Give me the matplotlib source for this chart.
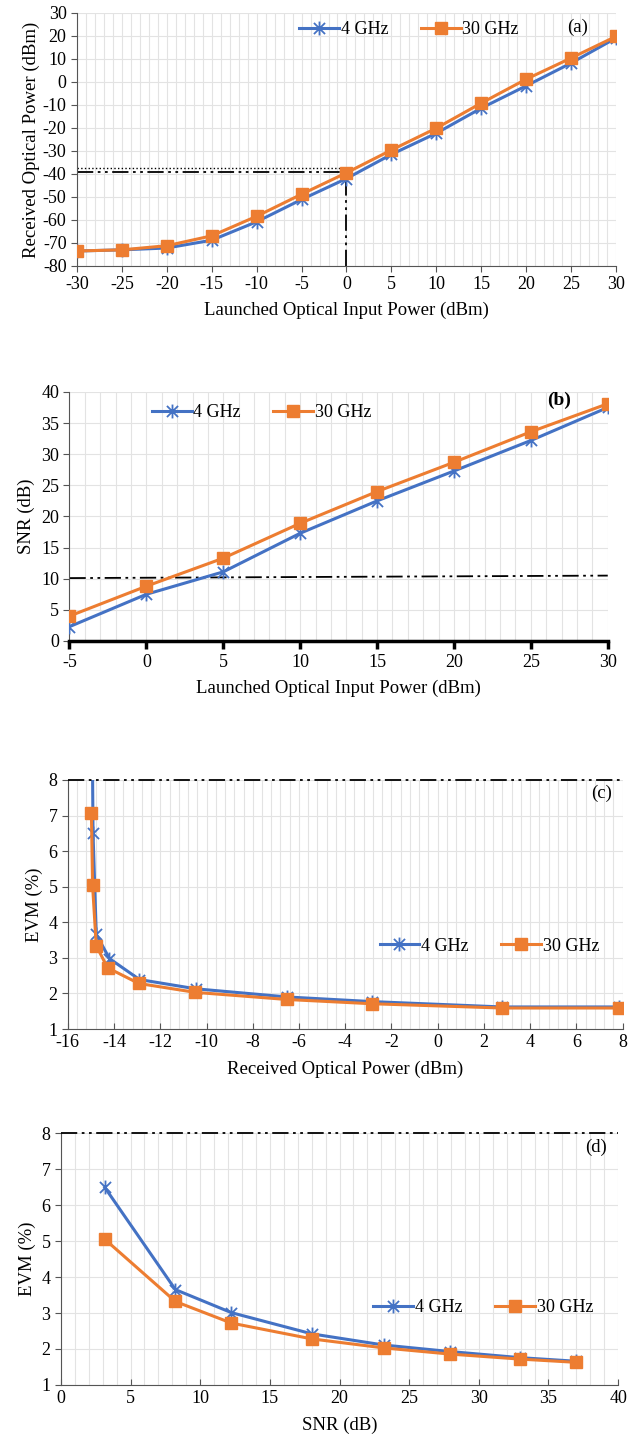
"""Received power, SNR and EVM vs launched/received power (4 GHz vs 30 GHz)."""

import matplotlib
matplotlib.use("Agg")
import matplotlib.pyplot as plt
from matplotlib.path import Path
from matplotlib.ticker import MultipleLocator

# ---------------------------------------------------------------------------
# Data
# ---------------------------------------------------------------------------
launch_a = [-30, -25, -20, -15, -10, -5, 0, 5, 10, 15, 20, 25, 30]
rx_4ghz = [-73.5, -73, -72.2, -68.8, -60.8, -51.1, -42, -31.5, -22.3, -11.4, -1.7, 8.2, 19.1]
rx_30ghz = [-73.5, -73, -71.2, -66.9, -58.4, -48.8, -39.5, -29.6, -20.1, -9.2, 1.2, 10.4, 19.8]

launch_b = [-5, 0, 5, 10, 15, 20, 25, 30]
snr_4ghz = [2.3, 7.5, 11.1, 17.3, 22.5, 27.3, 32.2, 37.5]
snr_30ghz = [4.0, 8.8, 13.3, 18.9, 24.0, 28.7, 33.6, 38.1]

rxp_4ghz = [-14.97, -14.91, -14.77, -14.2, -12.9, -10.47, -6.5, -2.84, 2.77, 7.84]
evm_c_4ghz = [11.5, 6.5, 3.66, 2.98, 2.39, 2.13, 1.9, 1.77, 1.62, 1.62]
rxp_30ghz = [-14.98, -14.93, -14.77, -14.28, -12.93, -10.49, -6.53, -2.84, 2.77, 7.84]
evm_c_30ghz = [7.06, 5.04, 3.34, 2.72, 2.28, 2.03, 1.83, 1.71, 1.59, 1.59]

snr_d = [3.15, 8.22, 12.24, 18.02, 23.18, 27.9, 32.94, 36.97]
evm_d_4ghz = [6.49, 3.65, 3.01, 2.42, 2.11, 1.93, 1.76, 1.66]
evm_d_30ghz = [5.05, 3.32, 2.72, 2.28, 2.03, 1.86, 1.72, 1.63]

# threshold / guide lines
thr_a_dotted = -37.6
thr_a_dashdot = -39.3
snr_thr = [10.1, 10.5]
evm_limit = 8

BLUE = "#4472C4"
ORANGE = "#ED7D31"

plt.rcParams["font.family"] = ["Liberation Serif", "DejaVu Serif"]
plt.rcParams["font.size"] = 13.5
plt.rcParams["axes.unicode_minus"] = False

# Excel-style star marker: x with a vertical bar through it
star = Path(
    [(0, -1), (0, 1), (-0.8, -0.8), (0.8, 0.8), (-0.8, 0.8), (0.8, -0.8)],
    [Path.MOVETO, Path.LINETO] * 3,
)
ddot = (0, (9, 2.5, 1.5, 2.5, 1.5, 2.5))


def draw_series(ax, x1, y1, x2, y2):
    ax.plot(x1, y1, color=BLUE, lw=2.2, marker=star, ms=10, mew=1.3,
            mfc="none", mec=BLUE, label="4 GHz", zorder=4)
    ax.plot(x2, y2, color=ORANGE, lw=2.2, marker="s", ms=9,
            mfc=ORANGE, mec=ORANGE, label="30 GHz", zorder=5)


def style(ax, minor_x):
    ax.xaxis.set_minor_locator(MultipleLocator(minor_x))
    ax.grid(True, which="major", color="#e3e3e3", lw=0.8)
    ax.grid(True, which="minor", axis="x", color="#e3e3e3", lw=0.8)
    ax.set_axisbelow(True)
    for s in ("top", "right"):
        ax.spines[s].set_visible(False)
    ax.spines["left"].set_color("#555555")
    ax.spines["bottom"].set_color("#555555")
    ax.tick_params(which="minor", length=0)
    ax.tick_params(which="major", length=4, color="#555555", labelsize=13)


def legend(ax, loc):
    ax.legend(loc="center", bbox_to_anchor=loc, ncol=2, frameon=False,
              handlelength=2.2, columnspacing=1.8, handletextpad=0.1, fontsize=13)


fig = plt.figure(figsize=(6.34, 14.43), dpi=100)

# ---------------------------------------------------------------------------
# (a) Received optical power
# ---------------------------------------------------------------------------
ax = fig.add_axes([0.1215, 0.8157, 0.850, 0.1753])
draw_series(ax, launch_a, rx_4ghz, launch_a, rx_30ghz)
ax.plot([-30, 0], [thr_a_dotted, thr_a_dotted], color="black", lw=1.0, ls=":")
ax.plot([-30, 0], [thr_a_dashdot, thr_a_dashdot], color="black", lw=1.3, ls=ddot)
ax.plot([0, 0], [-80, thr_a_dashdot], color="black", lw=1.3, ls=ddot)
ax.set_xlim(-30, 30)
ax.set_ylim(-80, 30)
ax.set_xticks(launch_a)
ax.yaxis.set_major_locator(MultipleLocator(10))
style(ax, 1)
ax.set_xlabel("Launched Optical Input Power (dBm)", labelpad=6)
ax.set_ylabel("Received Optical Power (dBm)", labelpad=2)
ax.text(0.928, 0.945, "(a)", transform=ax.transAxes, ha="center", va="center")
legend(ax, (0.616, 0.935))

# ---------------------------------------------------------------------------
# (b) SNR
# ---------------------------------------------------------------------------
ax = fig.add_axes([0.1096, 0.5558, 0.849, 0.1726])
draw_series(ax, launch_b, snr_4ghz, launch_b, snr_30ghz)
ax.plot([-5, 30], snr_thr, color="black", lw=1.3, ls=ddot)
ax.set_xlim(-5, 30)
ax.set_ylim(0, 40)
ax.set_xticks(launch_b)
ax.yaxis.set_major_locator(MultipleLocator(5))
style(ax, 1)
ax.spines["bottom"].set_color("black")
ax.spines["bottom"].set_linewidth(2.5)
ax.tick_params(axis="x", which="major", length=6, width=2.5, color="black")
ax.set_xlabel("Launched Optical Input Power (dBm)", labelpad=6)
ax.set_ylabel("SNR (dB)")
ax.text(0.909, 0.965, "(b)", transform=ax.transAxes, ha="center", va="center",
        fontweight="bold", fontsize=14)
legend(ax, (0.357, 0.916))

# ---------------------------------------------------------------------------
# (c) EVM vs received optical power
# ---------------------------------------------------------------------------
ax = fig.add_axes([0.107, 0.2869, 0.875, 0.1726])
draw_series(ax, rxp_4ghz, evm_c_4ghz, rxp_30ghz, evm_c_30ghz)
ax.axhline(evm_limit, color="black", lw=1.3, ls=ddot, zorder=6, clip_on=False)
ax.set_xlim(-16, 8)
ax.set_ylim(1, 8)
ax.xaxis.set_major_locator(MultipleLocator(2))
ax.yaxis.set_major_locator(MultipleLocator(1))
style(ax, 0.4)
ax.tick_params(axis="x", which="major", direction="in")
ax.set_xlabel("Received Optical Power (dBm)", labelpad=7)
ax.set_ylabel("EVM (%)")
ax.text(0.962, 0.948, "(c)", transform=ax.transAxes, ha="center", va="center")
legend(ax, (0.76, 0.333))

# ---------------------------------------------------------------------------
# (d) EVM vs SNR
# ---------------------------------------------------------------------------
ax = fig.add_axes([0.096, 0.0402, 0.879, 0.1746])
draw_series(ax, snr_d, evm_d_4ghz, snr_d, evm_d_30ghz)
ax.axhline(evm_limit, color="black", lw=1.3, ls=ddot, zorder=6, clip_on=False)
ax.set_xlim(0, 40)
ax.set_ylim(1, 8)
ax.xaxis.set_major_locator(MultipleLocator(5))
ax.yaxis.set_major_locator(MultipleLocator(1))
style(ax, 1)
ax.tick_params(axis="x", which="major", direction="in")
ax.set_xlabel("SNR (dB)", labelpad=7)
ax.set_ylabel("EVM (%)")
ax.text(0.96, 0.944, "(d)", transform=ax.transAxes, ha="center", va="center")
legend(ax, (0.758, 0.306))

fig.savefig("out.png", dpi=100)
